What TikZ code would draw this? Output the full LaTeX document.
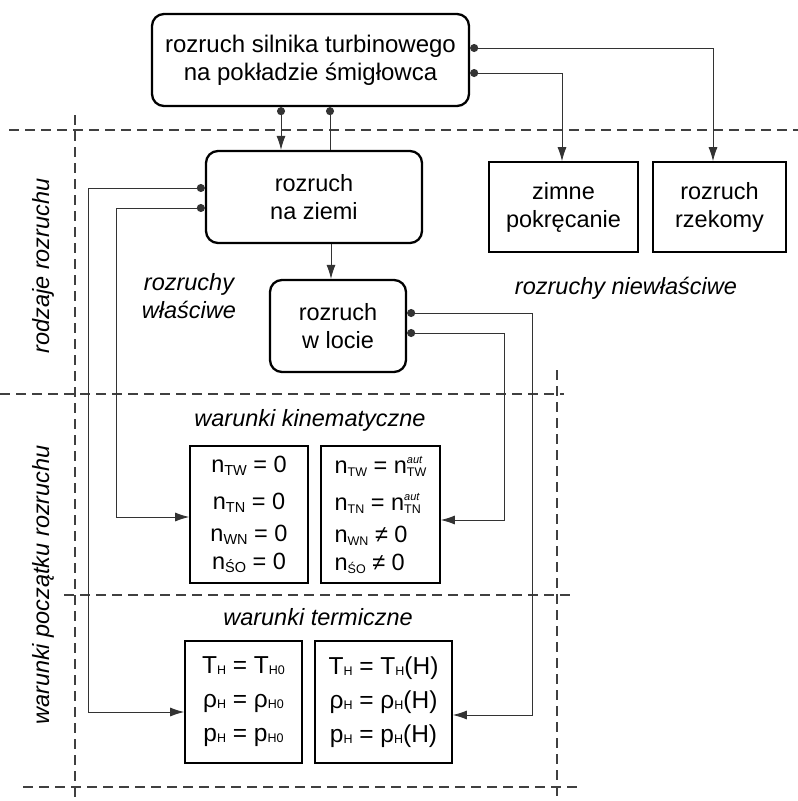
\documentclass[tikz,border=0pt]{standalone}
\usepackage{fontspec}
\setmainfont{Liberation Sans}
\usetikzlibrary{arrows.meta}
\newcommand{\lo}[1]{\raisebox{-2.5pt}{\fontsize{14.5}{14.5}\selectfont #1}}
\newcommand{\los}[1]{\raisebox{-3pt}{\fontsize{12.5}{12.5}\selectfont #1}}
\newcommand{\loh}[1]{\raisebox{-1pt}{\fontsize{12.5}{12.5}\selectfont #1}}
\newcommand{\lohi}[2]{\rlap{\raisebox{10pt}{\fontsize{11}{11}\selectfont\itshape #2}}\los{#1}}

\begin{document}
\begin{tikzpicture}[x=1pt,y=-1pt,>={Latex[length=14pt,width=9pt]},
      font=\fontsize{23.5}{28}\selectfont,
      rbox/.style={draw,line width=2.3pt,rounded corners=12pt,align=center,inner sep=0pt},
      sbox/.style={draw,line width=1.6pt,align=center,inner sep=0pt},
      conn/.style={line width=0.9pt,black!80},
      sep/.style={line width=1.2pt,black!75,dash pattern=on 10pt off 6pt},
      lbl/.style={font=\fontsize{23.5}{28}\selectfont\itshape,align=center}]
      \useasboundingbox (0,0) rectangle (798,801);
      \draw[sep] (9,130) -- (798,130);
      \draw[sep] (75,115) -- (75,801);
      \draw[sep] (0,394) -- (564,394);
      \draw[sep] (557,370) -- (557,801);
      \draw[sep] (64,595) -- (571,595);
      \draw[sep] (23,787) -- (577,787);
      \node[rbox,minimum width=317pt,minimum height=92pt,font=\fontsize{24}{28}\selectfont] (start) at (310.5,60) {rozruch silnika turbinowego\\na pokładzie śmigłowca};
      \node[rbox,minimum width=216pt,minimum height=92pt] (ground) at (314,197) {rozruch\\na ziemi};
      \node[rbox,minimum width=136pt,minimum height=92pt] (flight) at (338,326) {rozruch\\w locie};
      \node[sbox,minimum width=149pt,minimum height=90pt] (cold) at (563.5,207) {zimne\\pokręcanie};
      \node[sbox,minimum width=133pt,minimum height=90pt] (false) at (719.5,207) {rozruch\\rzekomy};
      \node[sbox,minimum width=118pt,minimum height=137pt] (kinA) at (249,514.5) {n\lo{TW} = 0\\[9pt] n\lo{TN} = 0\\[4pt] n\lo{WN} = 0\\ n\lo{ŚO} = 0};
      \node[sbox,align=left,minimum width=119pt,minimum height=137pt] (kinB) at (380.5,514.5) {n\los{TW} = n\lohi{TW}{aut}\\[9pt] n\los{TN} = n\lohi{TN}{aut}\\[4pt] n\los{WN} ≠ 0\\ n\los{ŚO} ≠ 0};
      \node[sbox,minimum width=117pt,minimum height=122pt,font=\fontsize{24.5}{28}\selectfont] (thermA) at (243.5,702) {T\loh{H} = T\loh{H0}\\[6pt] ρ\loh{H} = ρ\loh{H0}\\[6pt] p\loh{H} = p\loh{H0}};
      \node[sbox,minimum width=137pt,minimum height=122pt,font=\fontsize{24.5}{28}\selectfont] (thermB) at (383.5,702) {T\loh{H} = T\loh{H}(H)\\[6pt] ρ\loh{H} = ρ\loh{H}(H)\\[6pt] p\loh{H} = p\loh{H}(H)};
      \node[lbl,rotate=90] (kinds) at (43,266) {rodzaje rozruchu};
      \node[lbl,rotate=90] (initial) at (43,585) {warunki początku rozruchu};
      \node[lbl] (proper) at (189,296) {rozruchy\\właściwe};
      \node[lbl] (improper) at (626,288) {rozruchy niewłaściwe};
      \node[lbl] (kinlbl) at (310,420) {warunki kinematyczne};
      \node[lbl] (thermlbl) at (318,617) {warunki termiczne};
      % connectors
      \draw[conn,{Circle[length=8pt]}->] ([xshift=-29.5pt]start.south) -- ([xshift=-29.5pt]start.south |- ground.north);
      \draw[conn,{Circle[length=8pt]}-] ([xshift=19.5pt]start.south) -- ([xshift=19.5pt]start.south |- ground.north);
      \draw[conn,->] ([xshift=17pt]ground.south) -- ([xshift=17pt]ground.south |- flight.north);
      \draw[conn,{Circle[length=8pt]}->] ([yshift=12pt]start.east) -| ([xshift=-6.5pt]false.north);
      \draw[conn,{Circle[length=8pt]}->] ([yshift=-13pt]start.east) -| ([xshift=-1.5pt]cold.north);
      \draw[conn,{Circle[length=8pt]}->] ([yshift=9pt]ground.west) -- ++(-116,0) |- ([yshift=-10pt]thermA.west);
      \draw[conn,{Circle[length=8pt]}->] ([yshift=-11pt]ground.west) -- ++(-88,0) |- ([yshift=-2.5pt]kinA.west);
      \draw[conn,{Circle[length=8pt]}->] ([yshift=13pt]flight.east) -- ++(125,0) |- ([yshift=-13pt]thermB.east);
      \draw[conn,{Circle[length=8pt]}->] ([yshift=-7pt]flight.east) -- ++(97,0) |- ([yshift=-5.5pt]kinB.east);
%      \draw[sep] (0,801) -- (798,801);
    \end{tikzpicture}
\end{document}
